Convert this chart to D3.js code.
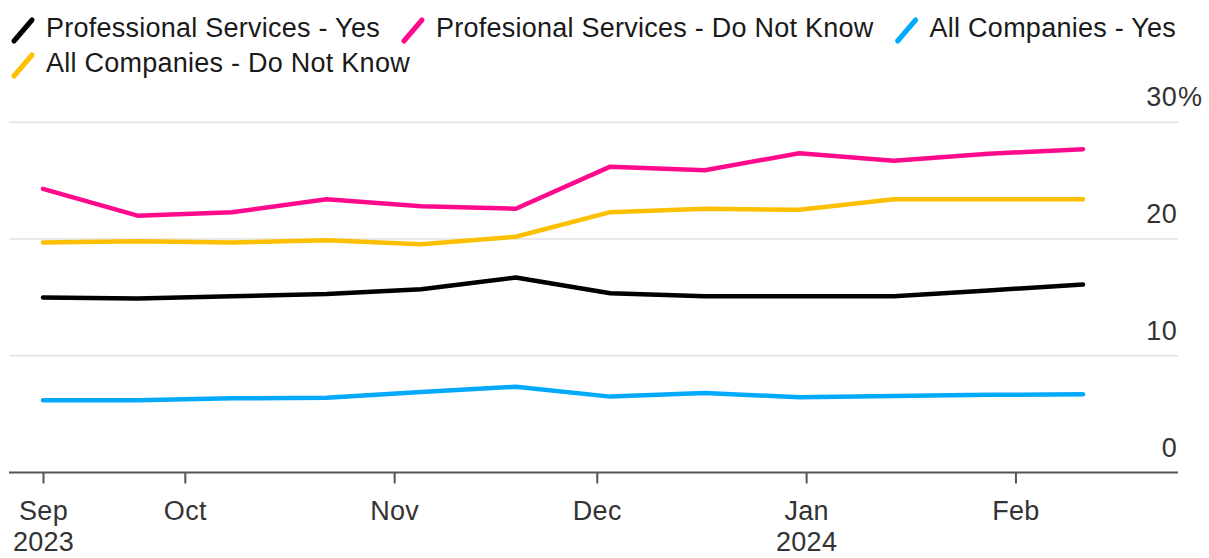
<!DOCTYPE html>
<html lang="en">
<head>
    <meta charset="UTF-8">
    <title>Professional Services vs All Companies</title>
    <script type="text/javascript" src="https://cdn.jsdelivr.net/npm/d3@7"></script>
    <style>
        body {
            margin: 0;
            background: #fff;
        }
        text {
            font-family: "Liberation Sans", Arial, sans-serif;
        }
        .legend-text {
            font-size: 27px;
            letter-spacing: 0.25px;
            fill: #1a1a1a;
        }
        .tick-text {
            font-size: 27px;
            letter-spacing: 0.3px;
            fill: #333;
        }
        .grid line {
            stroke: #e2e2e2;
            stroke-width: 1.5px;
        }
    </style>
</head>
<body>
    <div id="container"></div>
    <script type="text/javascript">
        // biweekly survey periods
        const dates = ['2023-09-10', '2023-09-24', '2023-10-08', '2023-10-22', '2023-11-05', '2023-11-19',
            '2023-12-03', '2023-12-17', '2023-12-31', '2024-01-14', '2024-01-28', '2024-02-11'];
        const seriesNames = [
            'Professional Services - Yes',
            'Profesional Services - Do Not Know',
            'All Companies - Yes',
            'All Companies - Do Not Know'
        ];
        const seriesColors = ['#000000', '#ff0a8c', '#03a9fb', '#fcc000'];
        const proYes = [15.0, 14.9, 15.1, 15.3, 15.7, 16.7, 15.35, 15.1, 15.1, 15.1, 15.6, 16.1];
        const proDoNotKnow = [24.3, 22.0, 22.3, 23.4, 22.8, 22.6, 26.2, 25.9, 27.35, 26.7, 27.3, 27.7];
        const allYes = [6.2, 6.2, 6.35, 6.4, 6.9, 7.35, 6.5, 6.8, 6.45, 6.55, 6.65, 6.7];
        const allDoNotKnow = [19.7, 19.8, 19.7, 19.9, 19.55, 20.2, 22.3, 22.6, 22.5, 23.4, 23.4, 23.4];
        const yTicks = [0, 10, 20, 30];
        const xTickDates = ['2023-09-10', '2023-10-01', '2023-11-01', '2023-12-01', '2024-01-01', '2024-02-01'];
        const xTickLabels = [['Sep', '2023'], ['Oct'], ['Nov'], ['Dec'], ['Jan', '2024'], ['Feb']];

        const parse = d3.timeParse('%Y-%m-%d');
        const w = 1209;
        const h = 558;

        const svg = d3.select('#container')
            .append('svg')
            .attr('width', w)
            .attr('height', h)
            .attr('viewBox', `0 0 ${w} ${h}`);

        const xScale = d3.scaleTime()
            .domain([parse(dates[0]), parse(dates[dates.length - 1])])
            .range([43, 1083]);
        const yScale = d3.scaleLinear()
            .domain([0, 30])
            .range([472.5, 122.3]);

        const gridLeft = 9;
        const gridRight = 1178;

        // horizontal gridlines
        svg.append('g')
            .attr('class', 'grid')
            .selectAll('line')
            .data(yTicks.filter(d => d > 0))
            .enter()
            .append('line')
            .attr('x1', gridLeft)
            .attr('x2', gridRight)
            .attr('y1', d => yScale(d))
            .attr('y2', d => yScale(d));

        // y labels sit above their gridline on the right
        const yLabels = svg.append('g');
        yLabels.selectAll('text.num')
            .data(yTicks)
            .enter()
            .append('text')
            .attr('class', 'tick-text num')
            .attr('x', 1177)
            .attr('y', d => yScale(d) - 16)
            .style('text-anchor', 'end')
            .text(d => d);
        yLabels.append('text')
            .attr('class', 'tick-text')
            .attr('x', 1178)
            .attr('y', yScale(30) - 16)
            .text('%');

        // x axis
        const xAxis = d3.axisBottom(xScale)
            .tickValues(xTickDates.map(parse))
            .tickSize(11)
            .tickSizeOuter(0)
            .tickFormat('');
        const axisG = svg.append('g')
            .attr('transform', `translate(0,${yScale(0)})`)
            .call(xAxis);
        axisG.select('.domain').remove();
        axisG.selectAll('.tick line')
            .attr('stroke', '#555')
            .attr('stroke-width', 2);
        axisG.append('line')
            .attr('x1', gridLeft)
            .attr('x2', gridRight)
            .attr('stroke', '#555')
            .attr('stroke-width', 2);
        axisG.selectAll('.tick')
            .each(function (d, i) {
                const t = d3.select(this).append('text')
                    .attr('class', 'tick-text')
                    .attr('y', 47)
                    .style('text-anchor', 'middle');
                xTickLabels[i].forEach((line, j) => {
                    t.append('tspan')
                        .attr('x', 0)
                        .attr('dy', j === 0 ? 0 : 31)
                        .text(line);
                });
            });

        // lines
        const seriesValues = [proYes, proDoNotKnow, allYes, allDoNotKnow];
        const line = d3.line()
            .x((d, i) => xScale(parse(dates[i])))
            .y(d => yScale(d));
        const drawOrder = [2, 3, 0, 1];
        svg.append('g')
            .selectAll('path')
            .data(drawOrder)
            .enter()
            .append('path')
            .attr('d', k => line(seriesValues[k]))
            .attr('fill', 'none')
            .attr('stroke', k => seriesColors[k])
            .attr('stroke-width', 4.5)
            .attr('stroke-linejoin', 'round')
            .attr('stroke-linecap', 'round');

        // legend, flowing left to right and wrapping
        const legend = svg.append('g');
        let lx = 12;
        let ly = 37;
        seriesNames.forEach((name, i) => {
            const item = legend.append('g');
            item.append('line')
                .attr('x1', 2).attr('y1', 4)
                .attr('x2', 20).attr('y2', -17)
                .attr('stroke', seriesColors[i])
                .attr('stroke-width', 5)
                .attr('stroke-linecap', 'round');
            const txt = item.append('text')
                .attr('class', 'legend-text')
                .attr('x', 34)
                .attr('y', 0)
                .text(name);
            const itemW = 34 + txt.node().getComputedTextLength();
            if (lx + itemW > 1195) {
                lx = 12;
                ly += 35;
            }
            item.attr('transform', `translate(${lx},${ly})`);
            lx += itemW + 22;
        });
    </script>
</body>
</html>
